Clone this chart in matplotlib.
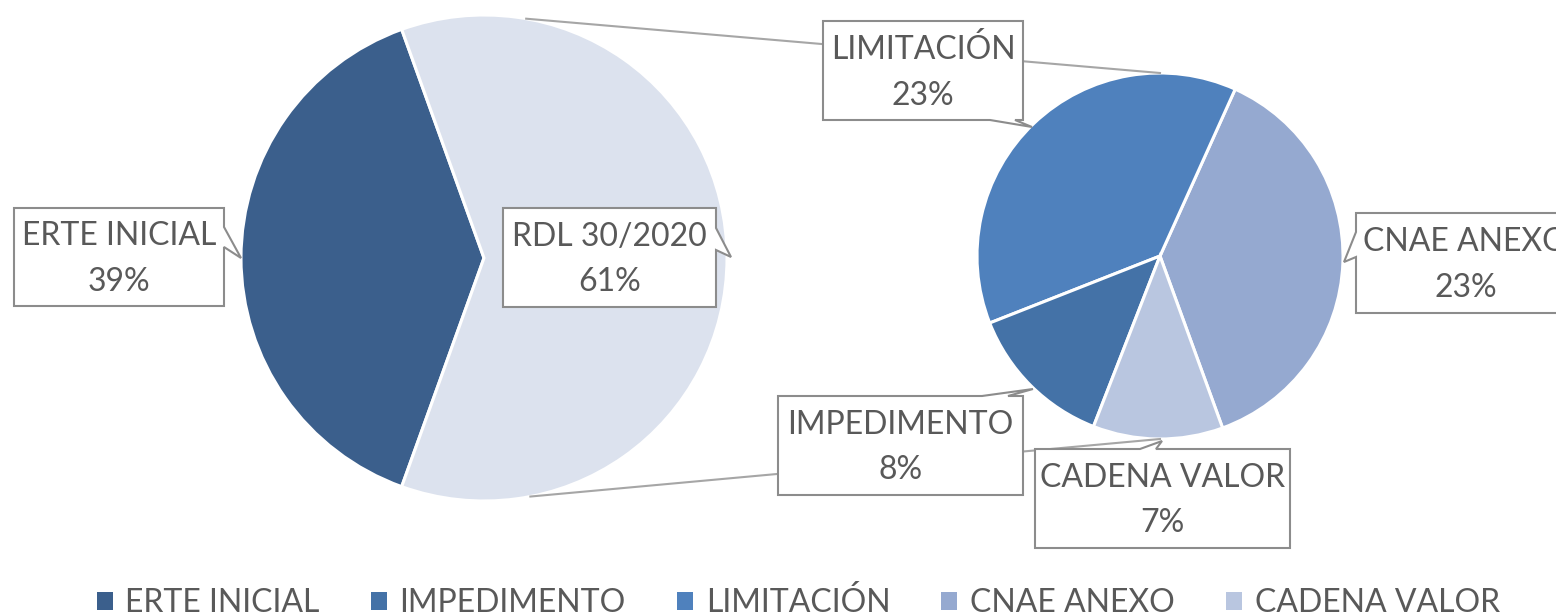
import matplotlib
matplotlib.use("Agg")
import matplotlib.pyplot as plt
from matplotlib.patches import Polygon, Patch
import numpy as np

plt.rcParams["font.family"] = ["Lato", "DejaVu Sans"]

# data (percent of all ERTE)
main_labels = ["ERTE INICIAL", "RDL 30/2020"]
main_values = [39, 61]
sub_labels = ["CNAE ANEXO", "LIMITACIÓN", "IMPEDIMENTO", "CADENA VALOR"]
sub_values = [23, 23, 8, 7]
legend_order = ["ERTE INICIAL", "IMPEDIMENTO", "LIMITACIÓN", "CNAE ANEXO", "CADENA VALOR"]

colors = {
    "ERTE INICIAL": "#3B5F8C",
    "RDL 30/2020": "#DCE2EE",
    "IMPEDIMENTO": "#4472A7",
    "LIMITACIÓN": "#4F81BD",
    "CNAE ANEXO": "#95A9D0",
    "CADENA VALOR": "#B9C6E0",
}
text_color = "#595959"
line_color = "#A6A6A6"

W, H = 1556, 616
fig = plt.figure(figsize=(W / 100, H / 100), dpi=100)
ax = fig.add_axes([0, 0, 1, 1])

# left pie
c1, r1 = (484, H - 258), 243
start1 = 180 - main_values[0] / sum(main_values) * 180
ax.pie(main_values, colors=[colors[l] for l in main_labels], startangle=start1,
       center=c1, radius=r1, frame=True,
       wedgeprops=dict(edgecolor="white", linewidth=2.2))

# right pie (breakdown of RDL 30/2020)
c2, r2 = (1160, H - 256), 183
ax.pie(sub_values, colors=[colors[l] for l in sub_labels], startangle=-70,
       center=c2, radius=r2, frame=True,
       wedgeprops=dict(edgecolor="white", linewidth=2.2))
ax.set_xlim(0, W)
ax.set_ylim(0, H)
ax.set_aspect("equal")
ax.axis("off")

# connector lines
for a, yend in [(80, c2[1] + r2), (-79, c2[1] - r2)]:
    t = np.radians(a)
    ax.plot([c1[0] + r1 * np.cos(t), c2[0]], [c1[1] + r1 * np.sin(t), yend],
            color=line_color, lw=1.5, zorder=3)


def callout(box, side, b0, b1, tip):
    x0, y0, x1, y1 = box
    pts = [(x0, y0)]
    if side == "top":
        pts += [(b0, y0), tip, (b1, y0)]
    pts += [(x1, y0)]
    if side == "right":
        pts += [(x1, b0), tip, (x1, b1)]
    pts += [(x1, y1)]
    if side == "bottom":
        pts += [(b1, y1), tip, (b0, y1)]
    pts += [(x0, y1)]
    if side == "left":
        pts += [(x0, b1), tip, (x0, b0)]
    pts = [(x, H - y) for x, y in pts]
    ax.add_patch(Polygon(pts, closed=True, facecolor="white",
                         edgecolor="#8C8C8C", lw=1.5, zorder=4))


all_vals = dict(zip(main_labels, main_values))
all_vals.update(zip(sub_labels, sub_values))

boxes = {
    "ERTE INICIAL": ((14, 208, 224, 306), "right", 227, 247, (241, 258)),
    "RDL 30/2020": ((503, 208, 716, 307), "right", 228, 250, (731, 257)),
    "LIMITACIÓN": ((823, 21, 1023, 120), "bottom", 990, 1015, (1032, 127)),
    "CNAE ANEXO": ((1356, 213, 1575, 313), "left", 232, 257, (1344, 262)),
    "IMPEDIMENTO": ((778, 396, 1023, 495), "top", 982, 1008, (1033, 389)),
    "CADENA VALOR": ((1035, 449, 1290, 548), "top", 1140, 1156, (1162, 441)),
}
for lab, (box, side, b0, b1, tip) in boxes.items():
    callout(box, side, b0, b1, tip)
    cx = (box[0] + box[2]) / 2
    cy = H - (box[1] + box[3]) / 2 - 2
    ax.text(cx, cy, f"{lab}\n{all_vals[lab]}%", ha="center", va="center",
            fontsize=23, color=text_color, linespacing=1.65, zorder=5)

handles = [Patch(facecolor=colors[l], edgecolor="none") for l in legend_order]
fig.legend(handles, legend_order, loc="lower center", ncol=5, frameon=False,
           bbox_to_anchor=(0.513, -0.05), fontsize=23, labelcolor=text_color,
           handlelength=0.5, handleheight=0.5, handletextpad=0.4,
           columnspacing=1.6)

fig.savefig("out.png", dpi=100)
